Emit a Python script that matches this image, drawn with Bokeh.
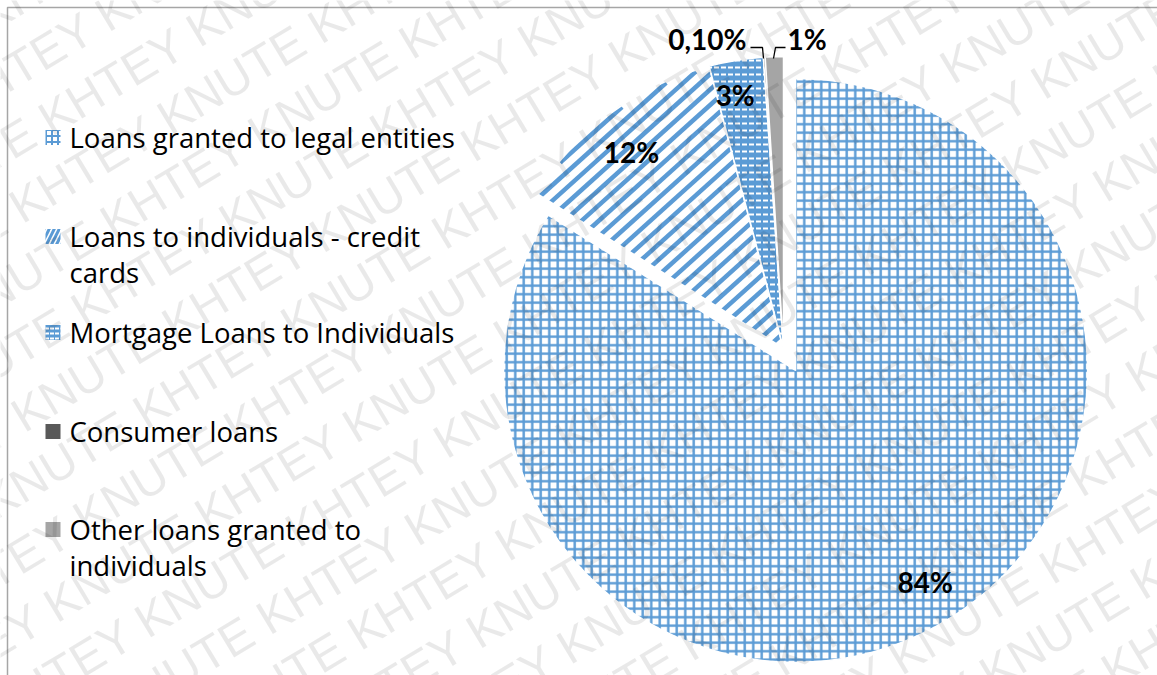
import math
from bokeh.plotting import figure
from bokeh.models import Range1d
from bokeh.core.properties import value
from bokeh.embed import file_html
from bokeh.resources import INLINE

# ---------------- data ----------------
categories = ["Loans granted to legal entities",
              "Loans to individuals - credit cards",
              "Mortgage Loans to Individuals",
              "Consumer loans",
              "Other loans granted to individuals"]
legend_lines = [["Loans granted to legal entities"],
                ["Loans to individuals - credit", "cards"],
                ["Mortgage Loans to Individuals"],
                ["Consumer loans"],
                ["Other loans granted to", "individuals"]]
shares = [84, 12, 3, 0.1, 1]
share_labels = ["84%", "12%", "3%", "0,10%", "1%"]

# ---------------- styles ----------------
W, H = 1157, 675
BLUE = "#5b9bd5"
fills = ["white", "white", BLUE, "#595959", "#a5a5a5"]
hatches = ["+", " ", '"', " ", " "]
hatch_colors = [BLUE, BLUE, "white", "white", "white"]
hatch_weights = [2.4, 1, 2, 1, 1]
hatch_scales = [8.5, 1, 7, 1, 1]
stripe_slice = 1          # slice drawn with wide upward diagonal stripes
stripe_angle = 42         # degrees
stripe_period = 11.5
stripe_width = 4.5
explode = [25, 0, 0, 0, 0]
label_r = [0.86, 0.85, 0.87]
label_nudge = [(8, 8), (-5, -3), (-7, 3)]   # pixels (x right, y up)
CX, CY = 783, H - 348
R = 292

p = figure(width=W, height=H, x_range=Range1d(0, W), y_range=Range1d(0, H),
           output_backend="svg", toolbar_location=None, min_border=0)
p.axis.visible = False
p.grid.visible = False
p.outline_line_color = None
p.background_fill_color = "white"
p.border_fill_color = "white"


def clip_line_convex(p0, d, poly):
    """Clip infinite line p0 + t*d to convex polygon poly; return segment or None."""
    n = len(poly)
    gx = sum(q[0] for q in poly) / n
    gy = sum(q[1] for q in poly) / n
    tmin, tmax = -1e9, 1e9
    for k in range(n):
        ax, ay = poly[k]
        bx, by = poly[(k + 1) % n]
        ex, ey = bx - ax, by - ay
        s = 1 if (ex * (gy - ay) - ey * (gx - ax)) >= 0 else -1
        f0 = s * (ex * (p0[1] - ay) - ey * (p0[0] - ax))
        f1 = s * (ex * d[1] - ey * d[0])
        if abs(f1) < 1e-12:
            if f0 < 0:
                return None
            continue
        t = -f0 / f1
        if f1 > 0:
            tmin = max(tmin, t)
        else:
            tmax = min(tmax, t)
    if tmin >= tmax:
        return None
    return ((p0[0] + tmin * d[0], p0[1] + tmin * d[1]),
            (p0[0] + tmax * d[0], p0[1] + tmax * d[1]))


total = sum(shares)
cum = 0.0
label_pos = []
for i, v in enumerate(shares):
    ts = cum / total * 360.0
    te = (cum + v) / total * 360.0
    cum += v
    tm = math.radians((ts + te) / 2)
    cx = CX + explode[i] * math.sin(tm)
    cy = CY + explode[i] * math.cos(tm)
    sa, ea = math.radians(90 - te), math.radians(90 - ts)
    p.wedge(x=[cx], y=[cy], radius=R, start_angle=sa, end_angle=ea,
            fill_color=fills[i], line_color="white", line_width=1.5,
            hatch_pattern=hatches[i], hatch_color=hatch_colors[i],
            hatch_weight=hatch_weights[i], hatch_scale=hatch_scales[i])
    if i == stripe_slice:
        inset = 1.5
        poly = [(cx, cy)]
        for k in range(41):
            a = sa + (ea - sa) * k / 40
            poly.append((cx + (R - inset) * math.cos(a), cy + (R - inset) * math.sin(a)))
        ga = math.radians(stripe_angle)
        d = (math.cos(ga), math.sin(ga))
        nrm = (-math.sin(ga), math.cos(ga))
        xs, ys = [], []
        for c in range(-40, 41):
            p0 = (cx + c * stripe_period * nrm[0], cy + c * stripe_period * nrm[1])
            seg = clip_line_convex(p0, d, poly)
            if seg:
                xs.append([seg[0][0], seg[1][0]])
                ys.append([seg[0][1], seg[1][1]])
        p.multi_line(xs=xs, ys=ys, line_color=BLUE, line_width=stripe_width, line_cap="butt")
        p.wedge(x=[cx], y=[cy], radius=R, start_angle=sa, end_angle=ea,
                fill_color=None, line_color="white", line_width=2)
    if i < 3:
        label_pos.append((cx + label_r[i] * R * math.sin(tm) + label_nudge[i][0],
                          cy + label_r[i] * R * math.cos(tm) + label_nudge[i][1]))

# inside labels
lab_font = value("Lato")
for i in range(3):
    p.text(x=[label_pos[i][0]], y=[label_pos[i][1]], text=[share_labels[i]],
           text_font=lab_font, text_font_style="bold", text_font_size="28px",
           text_align="center", text_baseline="middle", text_color="black")

# outside labels with leader lines
p.text(x=[746], y=[H - 38], text=[share_labels[3]], text_font=lab_font,
       text_font_style="bold", text_font_size="28px", text_align="right",
       text_baseline="middle", text_color="black")
p.text(x=[787], y=[H - 38], text=[share_labels[4]], text_font=lab_font,
       text_font_style="bold", text_font_size="28px", text_align="left",
       text_baseline="middle", text_color="black")
p.line(x=[750, 762, 763], y=[H - 47, H - 47, H - 58], line_color="black", line_width=1.3)
p.line(x=[785, 775, 773], y=[H - 47, H - 47, H - 58], line_color="black", line_width=1.3)

# legend (manual)
leg_y = [137, 236, 332, 431, 529]
line_gap = 36
leg_hatch = ["+", "/", '"', " ", " "]
leg_scale = [6, 10, 5, 1, 1]
leg_weight = [2, 3, 2, 1, 1]
for i, lines in enumerate(legend_lines):
    y0 = H - leg_y[i]
    p.rect(x=[52.5], y=[y0], width=15, height=15, fill_color=fills[i],
           line_color=None, hatch_pattern=leg_hatch[i], hatch_color=hatch_colors[i],
           hatch_weight=leg_weight[i], hatch_scale=leg_scale[i])
    for j, t in enumerate(lines):
        p.text(x=[69], y=[y0 - j * line_gap], text=[t], text_font=value("Open Sans"),
               text_font_size="27.5px", text_align="left", text_baseline="middle",
               text_color="black")

# chart border
p.line(x=[W + 10, 7, 7], y=[H - 7, H - 7, -10], line_color="#a6a6a6", line_width=1.5)

# watermark
ang = math.radians(31)
dx, dy = math.cos(ang), math.sin(ang)
nx, ny = -math.sin(ang), math.cos(ang)
wm = "KHTEY KNUTE " * 6
for k in range(-16, 16):
    px = 500 + k * 60 * nx - 700 * dx + (k % 2) * 70 * dx
    py = H / 2 + k * 60 * ny - 700 * dy + (k % 2) * 70 * dy
    p.text(x=[px], y=[py], text=[wm], angle=ang, text_font=value("Liberation Sans"),
           text_font_size="48px", text_align="left", text_baseline="middle",
           text_color="black", text_alpha=0.085)

open("out.html", "w").write(file_html(p, INLINE))
